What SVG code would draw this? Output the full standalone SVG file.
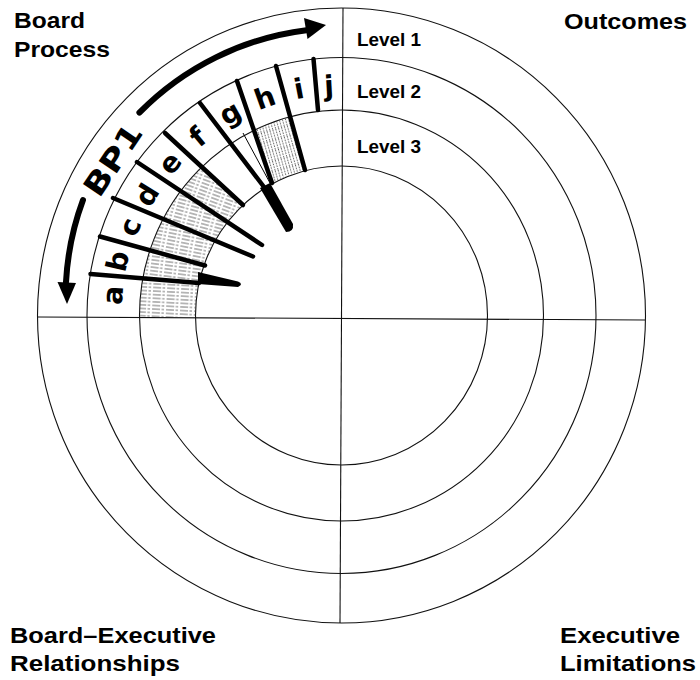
<svg xmlns="http://www.w3.org/2000/svg" width="700" height="680" viewBox="0 0 700 680">
<style>
.ring{fill:none;stroke:#111;stroke-width:1.1}
.axis{stroke:#111;stroke-width:1.1;fill:none}
.lbl{font-family:"Liberation Sans",Arial,sans-serif;font-weight:bold;font-size:22px;fill:#000}
.lvl{font-family:"Liberation Sans",Arial,sans-serif;font-weight:bold;font-size:18px;fill:#000}
.hand{font-family:"DejaVu Sans",sans-serif;font-weight:bold;font-size:28px;fill:#000;text-anchor:middle;dominant-baseline:central}
.div{stroke:#000;stroke-width:4.5;stroke-linecap:round;fill:none}
.blk{fill:#000;stroke:none}
.arr{fill:none;stroke:#000;stroke-width:6;stroke-linecap:round}
</style>
<defs>
<pattern id="hA" width="14" height="3.6" patternUnits="userSpaceOnUse" patternTransform="rotate(3)"><line x1="0" y1="1.8" x2="14" y2="1.8" stroke="#333" stroke-width="0.7" stroke-dasharray="8 1.5 2.5 2"/></pattern>
<pattern id="hB" width="14" height="3.6" patternUnits="userSpaceOnUse" patternTransform="rotate(7)"><line x1="0" y1="1.8" x2="14" y2="1.8" stroke="#333" stroke-width="0.7" stroke-dasharray="8 1.5 2.5 2"/></pattern>
<pattern id="hC" width="14" height="3.6" patternUnits="userSpaceOnUse" patternTransform="rotate(11)"><line x1="0" y1="1.8" x2="14" y2="1.8" stroke="#333" stroke-width="0.7" stroke-dasharray="8 1.5 2.5 2"/></pattern>
<pattern id="hD" width="14" height="3.6" patternUnits="userSpaceOnUse" patternTransform="rotate(15)"><line x1="0" y1="1.8" x2="14" y2="1.8" stroke="#333" stroke-width="0.7" stroke-dasharray="8 1.5 2.5 2"/></pattern>
<pattern id="hE" width="14" height="3.6" patternUnits="userSpaceOnUse" patternTransform="rotate(20)"><line x1="0" y1="1.8" x2="14" y2="1.8" stroke="#333" stroke-width="0.7" stroke-dasharray="8 1.5 2.5 2"/></pattern>
<pattern id="hH" width="10" height="3" patternUnits="userSpaceOnUse" patternTransform="rotate(74)"><line x1="0" y1="1.5" x2="10" y2="1.5" stroke="#333" stroke-width="0.8" stroke-dasharray="1.5 1.2"/></pattern>
</defs>
<rect width="700" height="680" fill="#fff"/>

<g id="rings">
<ellipse class="ring" cx="341.5" cy="315.5" rx="304" ry="307.5"/>
<ellipse class="ring" cx="341.5" cy="315.5" rx="254.5" ry="258"/>
<ellipse class="ring" cx="341.5" cy="315.5" rx="202" ry="205.5"/>
<ellipse class="ring" cx="341.5" cy="315.5" rx="146" ry="149.5"/>
</g>

<g id="hatching">
<path fill="url(#hA)" d="M139.5,317 A202 205.5 0 0 1 142.3,280 L198.4,284.5 A146 149.5 0 0 0 195.5,317 Z"/>
<path fill="url(#hB)" d="M142.3,280 A202 205.5 0 0 1 149.4,250.5 L203.5,266 A146 149.5 0 0 0 198.4,284.5 Z"/>
<path fill="url(#hC)" d="M149.4,250.5 A202 205.5 0 0 1 162.5,219.5 L214.4,241.5 A146 149.5 0 0 0 203.5,266 Z"/>
<path fill="url(#hD)" d="M162.5,219.5 A202 205.5 0 0 1 180,191.5 L226.7,223 A146 149.5 0 0 0 214.4,241.5 Z"/>
<path fill="url(#hE)" d="M180,191.5 A202 205.5 0 0 1 201.4,167 L242.5,205.5 A146 149.5 0 0 0 226.7,223 Z"/>
<path fill="url(#hH)" d="M253,130.4 A202 205.5 0 0 1 289.6,116.8 L305,170 A146 149.5 0 0 0 272,183 Z"/>
</g>

<g id="connectors">
<line class="axis" x1="343" y1="8" x2="340" y2="623"/>
<line class="axis" x1="38" y1="317" x2="645" y2="320"/>
</g>

<g id="dividers">
<line class="div" x1="90.5" y1="274" x2="199" y2="283"/>
<path class="blk" d="M198,272 L238,281.5 Q244,284.2 238,287 L198,284 Z"/>
<line class="div" x1="100" y1="236.5" x2="205" y2="265.5"/>
<line class="div" x1="113" y1="198" x2="253" y2="256.5" stroke-width="5"/>
<line class="div" x1="137" y1="162" x2="262" y2="245" stroke-width="5"/>
<line class="div" x1="165" y1="133" x2="243" y2="205"/>
<line class="div" x1="200" y1="103" x2="264" y2="187"/>
<path class="blk" d="M260,188 L270,183 L293,224 Q294,232 286,232 Z"/>
<line class="div" x1="237" y1="81" x2="272" y2="183"/>
<line x1="243" y1="133" x2="270" y2="183" stroke="#000" stroke-width="1"/>
<line class="div" x1="276" y1="66" x2="305" y2="170"/>
<line class="div" x1="313.5" y1="59" x2="318" y2="110"/>
</g>

<g id="segment-letters">
<text class="hand" transform="translate(113,295) rotate(-85.5)">a</text>
<text class="hand" transform="translate(118,261) rotate(-77)">b</text>
<text class="hand" transform="translate(130,227) rotate(-68)">c</text>
<text class="hand" transform="translate(147,195) rotate(-58.7)">d</text>
<text class="hand" transform="translate(170,163) rotate(-49.2)">e</text>
<text class="hand" transform="translate(198,137) rotate(-39.4)">f</text>
<text class="hand" transform="translate(230,113) rotate(-29.2)">g</text>
<text class="hand" transform="translate(265,98) rotate(-19.7)">h</text>
<text class="hand" transform="translate(299,89) rotate(-10.8)">i</text>
<text class="hand" transform="translate(329,86) rotate(-3.2)">j</text>
</g>

<g id="bp1-arrow">
<path class="arr" d="M139.4,112.6 A284 284 0 0 1 306.4,30.2"/>
<polygon class="blk" points="304,18 307.5,39 326,25"/>
<path class="arr" d="M83,200 A280 280 0 0 0 66,282"/>
<polygon class="blk" points="57.5,282 76,283 67,304"/>
<text class="hand" style="font-size:30px" textLength="80" lengthAdjust="spacingAndGlyphs" transform="translate(113,160) rotate(-56)">BP1</text>
</g>

<g id="level-labels">
<text class="lvl" x="357" y="46" textLength="64" lengthAdjust="spacingAndGlyphs">Level 1</text>
<text class="lvl" x="357" y="98" textLength="64" lengthAdjust="spacingAndGlyphs">Level 2</text>
<text class="lvl" x="357" y="153" textLength="64" lengthAdjust="spacingAndGlyphs">Level 3</text>
</g>

<g id="quadrant-labels">
<text class="lbl" x="14" y="28" textLength="71" lengthAdjust="spacingAndGlyphs">Board</text>
<text class="lbl" x="14" y="57" textLength="96" lengthAdjust="spacingAndGlyphs">Process</text>
<text class="lbl" x="564" y="29" textLength="123" lengthAdjust="spacingAndGlyphs">Outcomes</text>
<text class="lbl" x="10" y="643" textLength="206" lengthAdjust="spacingAndGlyphs">Board–Executive</text>
<text class="lbl" x="10" y="671" textLength="170" lengthAdjust="spacingAndGlyphs">Relationships</text>
<text class="lbl" x="560" y="643" textLength="120" lengthAdjust="spacingAndGlyphs">Executive</text>
<text class="lbl" x="560" y="671" textLength="136" lengthAdjust="spacingAndGlyphs">Limitations</text>
</g>
</svg>
